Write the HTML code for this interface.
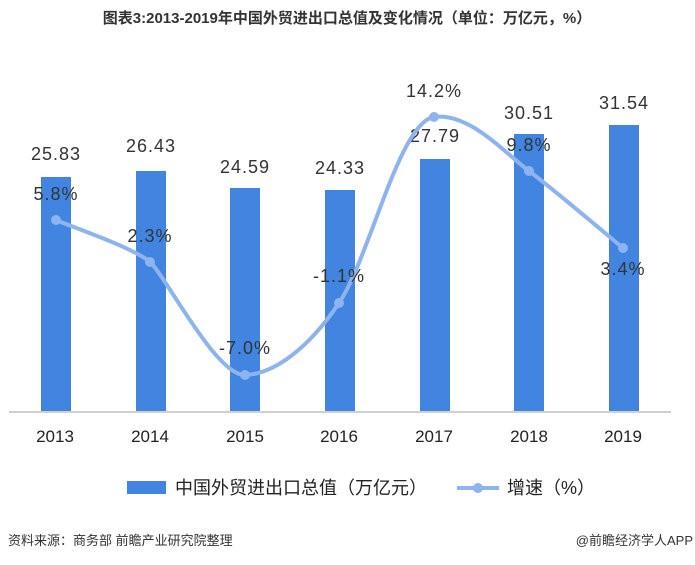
<!DOCTYPE html>
<html><head><meta charset="utf-8"><style>
body{margin:0;background:#fff;width:695px;height:560px;overflow:hidden;font-family:"Liberation Sans","Noto Sans CJK SC",sans-serif;}
</style></head><body>
<svg width="695" height="560" xmlns="http://www.w3.org/2000/svg" font-family="Liberation Sans, Noto Sans CJK SC, sans-serif">
<text x="347" y="23" text-anchor="middle" font-size="15" font-weight="bold" fill="#333">图表3:2013-2019年中国外贸进出口总值及变化情况（单位：万亿元，%）</text>
<g fill="#4185e0">
<rect x="41" y="177" width="30" height="235"/>
<rect x="136" y="171" width="30" height="241"/>
<rect x="230" y="188" width="30" height="224"/>
<rect x="325" y="190" width="30" height="222"/>
<rect x="420" y="159" width="30" height="253"/>
<rect x="514" y="134" width="30" height="278"/>
<rect x="609" y="125" width="30" height="287"/>
</g>
<line x1="9" y1="412" x2="671" y2="412" stroke="#d0d0d0" stroke-width="2"/>
<g font-size="18" fill="#333" text-anchor="middle" letter-spacing="1">
<text x="56" y="160">25.83</text>
<text x="151" y="152">26.43</text>
<text x="245" y="173">24.59</text>
<text x="340" y="174">24.33</text>
<text x="435" y="142">27.79</text>
<text x="529" y="119">30.51</text>
<text x="624" y="109">31.54</text>
</g>
<path d="M56,220 C71.7,227 134.3,248 150,262 C165.7,276 216.2,376 245,375 C273.8,374 308,349 339,303 C370,257 399.2,122 434,117 C468.8,112 505,153 529,171 C553,189 607.3,235 623,248" fill="none" stroke="#8db4ee" stroke-width="4"/>
<g fill="#8db4ee">
<circle cx="56" cy="220" r="5"/><circle cx="150" cy="262" r="5"/><circle cx="245" cy="375" r="5"/><circle cx="339" cy="303" r="5"/><circle cx="434" cy="117" r="5"/><circle cx="529" cy="171" r="5"/><circle cx="623" cy="248" r="5"/>
</g>
<g font-size="18" fill="#333" text-anchor="middle" letter-spacing="1">
<text x="56" y="200">5.8%</text>
<text x="150" y="242">2.3%</text>
<text x="245" y="354">-7.0%</text>
<text x="339" y="282">-1.1%</text>
<text x="434" y="97">14.2%</text>
<text x="529" y="151">9.8%</text>
<text x="623" y="275">3.4%</text>
</g>
<g font-size="17" fill="#222" text-anchor="middle">
<text x="55" y="442">2013</text><text x="150" y="442">2014</text><text x="245" y="442">2015</text><text x="339" y="442">2016</text><text x="434" y="442">2017</text><text x="529" y="442">2018</text><text x="623" y="442">2019</text>
</g>
<rect x="127" y="481" width="39" height="13" fill="#4185e0"/>
<text x="175" y="494" font-size="18" fill="#222">中国外贸进出口总值（万亿元）</text>
<line x1="457" y1="488" x2="499" y2="488" stroke="#8db4ee" stroke-width="4"/>
<circle cx="478" cy="488" r="5" fill="#8db4ee"/>
<text x="507" y="494" font-size="18" fill="#222">增速（%）</text>
<text x="8" y="545" font-size="13" fill="#333">资料来源：商务部  前瞻产业研究院整理</text>
<text x="693" y="545" font-size="13" fill="#333" text-anchor="end">@前瞻经济学人APP</text>
</svg>
</body></html>
